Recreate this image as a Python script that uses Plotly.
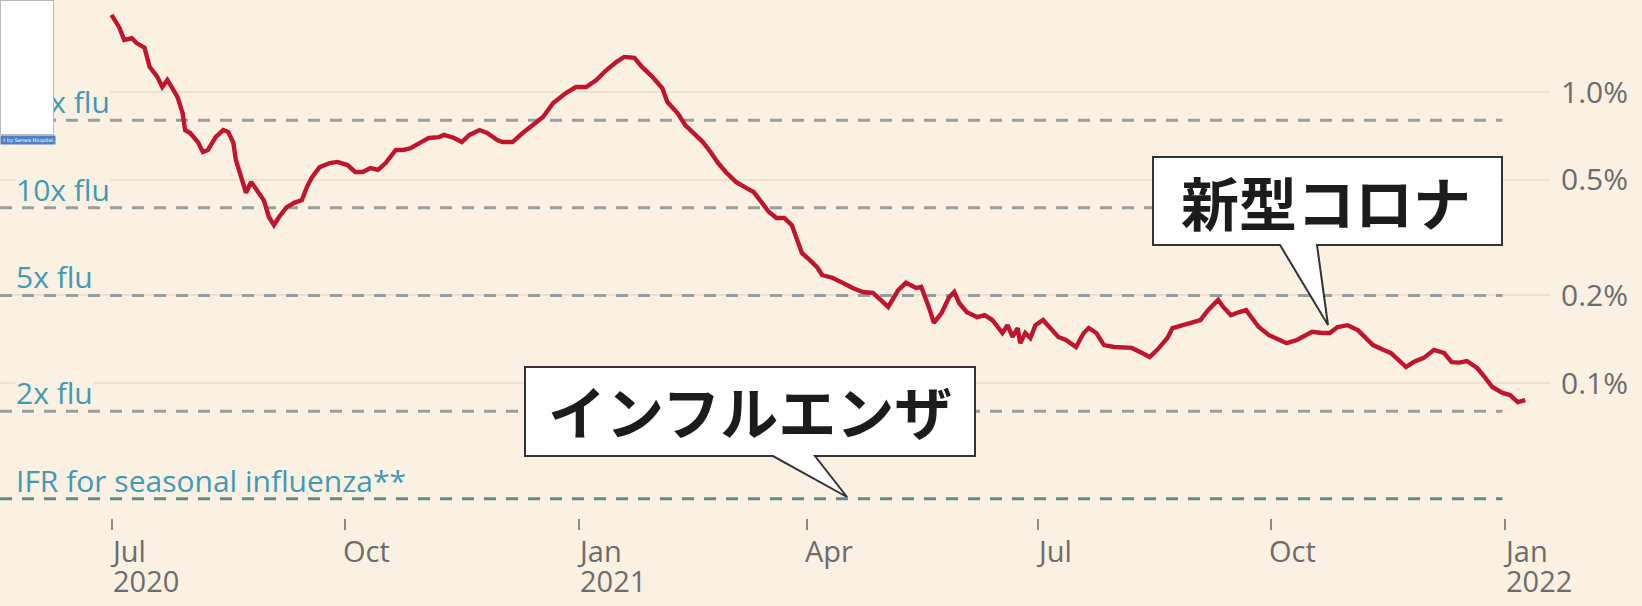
import numpy as np
import pandas as pd
import plotly.graph_objects as go

# ---------------- data ----------------
dates = [
    "2020-07-01", "2020-07-04", "2020-07-06", "2020-07-09", "2020-07-11", "2020-07-14", "2020-07-16",
    "2020-07-19", "2020-07-21", "2020-07-23", "2020-07-25", "2020-07-27", "2020-07-29", "2020-07-30",
    "2020-08-01", "2020-08-04", "2020-08-06", "2020-08-08", "2020-08-11", "2020-08-14", "2020-08-16",
    "2020-08-18", "2020-08-19", "2020-08-21", "2020-08-23", "2020-08-25", "2020-08-28", "2020-08-30",
    "2020-09-01", "2020-09-03", "2020-09-05", "2020-09-08", "2020-09-11", "2020-09-14", "2020-09-16",
    "2020-09-18", "2020-09-21", "2020-09-25", "2020-09-28", "2020-10-02", "2020-10-05", "2020-10-08",
    "2020-10-11", "2020-10-14", "2020-10-17", "2020-10-21", "2020-10-24", "2020-10-27", "2020-10-31",
    "2020-11-03", "2020-11-07", "2020-11-09", "2020-11-13", "2020-11-16", "2020-11-19", "2020-11-23",
    "2020-11-26", "2020-11-30", "2020-12-02", "2020-12-06", "2020-12-10", "2020-12-14", "2020-12-18",
    "2020-12-22", "2020-12-27", "2020-12-31", "2021-01-04", "2021-01-08", "2021-01-12", "2021-01-16",
    "2021-01-19", "2021-01-23", "2021-01-26", "2021-01-30", "2021-02-03", "2021-02-05", "2021-02-09",
    "2021-02-12", "2021-02-15", "2021-02-19", "2021-02-22", "2021-02-25", "2021-02-28", "2021-03-04",
    "2021-03-08", "2021-03-11", "2021-03-14", "2021-03-17", "2021-03-20", "2021-03-23", "2021-03-26",
    "2021-03-28", "2021-03-30", "2021-04-02", "2021-04-05", "2021-04-07", "2021-04-11", "2021-04-15",
    "2021-04-19", "2021-04-23", "2021-04-27", "2021-04-30", "2021-05-03", "2021-05-07", "2021-05-10",
    "2021-05-14", "2021-05-16", "2021-05-19", "2021-05-21", "2021-05-24", "2021-05-27", "2021-05-29",
    "2021-05-31", "2021-06-03", "2021-06-07", "2021-06-10", "2021-06-13", "2021-06-17", "2021-06-19",
    "2021-06-21", "2021-06-23", "2021-06-24", "2021-06-26", "2021-06-28", "2021-06-30", "2021-07-03",
    "2021-07-06", "2021-07-09", "2021-07-12", "2021-07-16", "2021-07-19", "2021-07-21", "2021-07-24",
    "2021-07-27", "2021-07-31", "2021-08-04", "2021-08-07", "2021-08-11", "2021-08-14", "2021-08-17",
    "2021-08-21", "2021-08-23", "2021-08-27", "2021-08-31", "2021-09-03", "2021-09-06", "2021-09-10",
    "2021-09-12", "2021-09-15", "2021-09-18", "2021-09-21", "2021-09-23", "2021-09-26", "2021-09-30",
    "2021-10-04", "2021-10-07", "2021-10-11", "2021-10-17", "2021-10-21", "2021-10-24", "2021-10-27",
    "2021-10-31", "2021-11-04", "2021-11-07", "2021-11-10", "2021-11-14", "2021-11-17", "2021-11-20",
    "2021-11-23", "2021-11-26", "2021-11-30", "2021-12-04", "2021-12-08", "2021-12-11", "2021-12-14",
    "2021-12-17", "2021-12-21", "2021-12-24", "2021-12-27", "2021-12-31", "2022-01-03", "2022-01-06",
    "2022-01-09",
]
covid_ifr = [  # percent
    1.84, 1.67, 1.51, 1.53, 1.47, 1.42, 1.22,
    1.13, 1.04, 1.10, 1.03, 0.961, 0.847, 0.740,
    0.723, 0.673, 0.622, 0.632, 0.700, 0.740, 0.729,
    0.668, 0.584, 0.510, 0.450, 0.491, 0.453, 0.425,
    0.372, 0.349, 0.372, 0.402, 0.416, 0.425, 0.472,
    0.510, 0.552, 0.570, 0.575, 0.561, 0.531, 0.531,
    0.548, 0.540, 0.570, 0.632, 0.632, 0.642, 0.673,
    0.695, 0.700, 0.712, 0.695, 0.673, 0.712, 0.740,
    0.723, 0.684, 0.673, 0.673, 0.723, 0.770, 0.821,
    0.917, 0.992, 1.04, 1.04, 1.10, 1.19, 1.27,
    1.32, 1.31, 1.22, 1.13, 1.03, 0.924, 0.847,
    0.770, 0.723, 0.673, 0.622, 0.570, 0.531, 0.491,
    0.468, 0.453, 0.419, 0.387, 0.369, 0.369, 0.349,
    0.310, 0.280, 0.265, 0.250, 0.235, 0.230, 0.221,
    0.212, 0.2055, 0.204, 0.193, 0.1825, 0.209, 0.221,
    0.212, 0.214, 0.1825, 0.161, 0.174, 0.197, 0.2055,
    0.188, 0.175, 0.1685, 0.171, 0.1646, 0.1485, 0.158,
    0.144, 0.1545, 0.137, 0.1485, 0.1427, 0.158, 0.1646,
    0.1545, 0.144, 0.1405, 0.133, 0.1485, 0.1545, 0.1485,
    0.135, 0.133, 0.132, 0.132, 0.1268, 0.1228, 0.130,
    0.1427, 0.1545, 0.158, 0.161, 0.1646, 0.178, 0.193,
    0.1825, 0.171, 0.175, 0.178, 0.1685, 0.1557, 0.146,
    0.1405, 0.137, 0.1405, 0.150, 0.1485, 0.1485, 0.1557,
    0.158, 0.152, 0.1427, 0.135, 0.130, 0.1268, 0.120,
    0.1135, 0.118, 0.122, 0.130, 0.1268, 0.118, 0.1175,
    0.119, 0.1126, 0.1048, 0.0969, 0.0924, 0.0909, 0.0860,
    0.0874,
]

flu_ifr = 0.04  # percent, IFR for seasonal influenza
flu_multiples = [20, 10, 5, 2, 1]
flu_labels = ["20x flu", "10x flu", "5x flu", "2x flu", "IFR for seasonal influenza**"]
flu_line_end = "2021-12-31"

tick_dates = ["2020-07-01", "2020-10-01", "2021-01-01", "2021-04-01",
              "2021-07-01", "2021-10-01", "2022-01-01"]
tick_months = ["Jul", "Oct", "Jan", "Apr", "Jul", "Oct", "Jan"]
tick_years = ["2020", "", "2021", "", "", "", "2022"]

y_tickvals = [1.0, 0.5, 0.2, 0.1]
y_ticktext = ["1.0%", "0.5%", "0.2%", "0.1%"]

covid_label = "新型コロナ"
flu_callout_label = "インフルエンザ"
credit_text = "t by Sanwa Hospital."

# ---------------- style ----------------
BG = "#fbf1e3"
RED = "#c0152d"
GRID = "#ede2d0"
DASH = "#97a09f"
DASH_FLU = "#5e8e8b"
TEAL = "#4299b4"
GREY_TXT = "#6c6c6c"
W, H = 1642, 606
ML, MR, MT, MB = 0, 92, 0, 88
PW, PH = W - ML - MR, H - MT - MB

x_start = pd.Timestamp("2020-07-01") - pd.Timedelta(days=43.93)
x_end = pd.Timestamp("2022-01-01") + pd.Timedelta(days=17.73)
y_range = [-(PH - 92) / 291.0, 92 / 291.0]

fig = go.Figure()

# flu reference lines
for m in flu_multiples:
    fig.add_trace(go.Scatter(
        x=[x_start, pd.Timestamp(flu_line_end)], y=[flu_ifr * m] * 2,
        mode="lines", hoverinfo="skip",
        line=dict(color=DASH_FLU if m == 1 else DASH, width=3, dash="12px,10px"),
    ))

# covid line
fig.add_trace(go.Scatter(
    x=pd.to_datetime(dates), y=covid_ifr, mode="lines",
    line=dict(color=RED, width=4.4), hoverinfo="skip",
))

def px(xp):
    return xp / PW

def py(yp):
    return 1 - yp / PH

def callout_path(x0, x1, y0, y1, bl, br, tx, ty):
    pts = [(x0, y0), (x1, y0), (x1, y1), (br, y1), (tx, ty), (bl, y1), (x0, y1)]
    s = "M " + " L ".join(f"{px(a):.5f},{py(b):.5f}" for a, b in pts) + " Z"
    return s

shapes = [
    dict(type="path", xref="paper", yref="paper", layer="above",
         path=callout_path(525, 975, 367, 456, 773, 815, 847, 497),
         fillcolor="white", line=dict(color="#333333", width=2)),
    dict(type="path", xref="paper", yref="paper", layer="above",
         path=callout_path(1153, 1502, 157, 245, 1280, 1317, 1328, 325),
         fillcolor="white", line=dict(color="#333333", width=2)),
]

annotations = []
for m, lab in zip(flu_multiples, flu_labels):
    annotations.append(dict(
        x=0, xref="paper", xanchor="left", xshift=15,
        y=float(np.log10(flu_ifr * m)), yref="y", yanchor="middle", yshift=19,
        text=lab, showarrow=False, bgcolor=BG, height=28, borderpad=0,
        font=dict(family="Open Sans", size=30, color=TEAL),
    ))

# x tick labels: month and (optionally) year, left-aligned at the tick
for d, mo, yr in zip(tick_dates, tick_months, tick_years):
    lines = [f"<span style='font-size:29px'>{mo}</span>"]
    if yr:
        lines.append(f"<span style='font-size:29px'>{yr}</span>")
    annotations.append(dict(
        x=d, xref="x", xanchor="left", xshift=-3,
        y=0, yref="paper", yanchor="top", yshift=-12,
        text="<br>".join(lines), align="left", showarrow=False, borderpad=0,
        font=dict(family="Open Sans", size=23.1, color=GREY_TXT),
    ))

# callout texts
annotations.append(dict(
    x=px(750), y=py(410), xref="paper", yref="paper", xanchor="center", yanchor="middle",
    text=flu_callout_label, showarrow=False,
    font=dict(family="Noto Sans CJK JP", size=58, color="#1c1c1c", weight="bold"),
))
annotations.append(dict(
    x=px(1326), y=py(201), xref="paper", yref="paper", xanchor="center", yanchor="middle",
    text=covid_label, showarrow=False,
    font=dict(family="Noto Sans CJK JP", size=58, color="#1c1c1c", weight="bold"),
))

# white overlay box with credit strip (top-left)
annotations.append(dict(
    x=0, y=1, xref="paper", yref="paper", xanchor="left", yanchor="top",
    text=" ", showarrow=False, width=52, height=133, borderpad=0,
    bgcolor="white", bordercolor="#b9b9b9", borderwidth=1,
))
annotations.append(dict(
    x=0, y=py(135), xref="paper", yref="paper", xanchor="left", yanchor="top",
    text=credit_text, showarrow=False, width=54, height=8, borderpad=0, align="right",
    bgcolor="#4f80c6", font=dict(family="DejaVu Sans", size=5, color="white"),
))

fig.update_layout(
    width=W, height=H,
    margin=dict(l=ML, r=MR, t=MT, b=MB, pad=0),
    paper_bgcolor=BG, plot_bgcolor=BG,
    showlegend=False,
    shapes=shapes, annotations=annotations,
    xaxis=dict(
        type="date", range=[x_start, x_end], showgrid=False, zeroline=False,
        showline=False, tickvals=tick_dates, ticks="outside", ticklen=11,
        tickwidth=1.5, tickcolor="#8a8a8a", showticklabels=False, automargin=False,
    ),
    yaxis=dict(
        type="log", range=y_range, side="right", tickvals=y_tickvals,
        ticktext=y_ticktext, showgrid=True, gridcolor=GRID, gridwidth=1.5,
        zeroline=False, showline=False, ticks="", ticklabelstandoff=10,
        tickfont=dict(family="Open Sans", size=30, color=GREY_TXT), automargin=False,
    ),
)

fig.write_html("out.html", config={"displayModeBar": False},
               post_script="document.body.style.margin='0px';")
